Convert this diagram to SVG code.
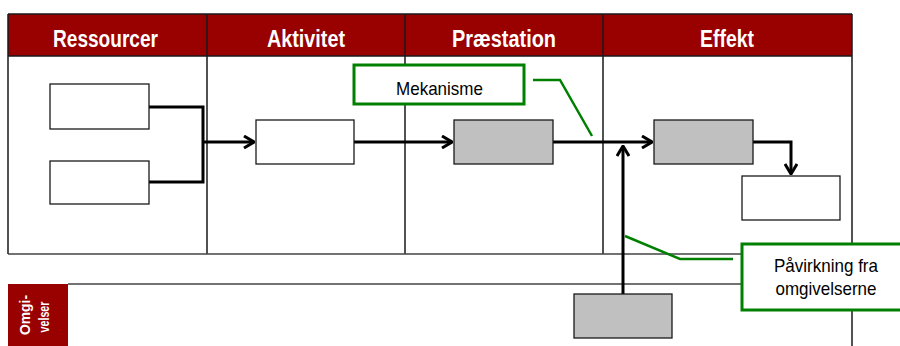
<svg xmlns="http://www.w3.org/2000/svg" width="900" height="346" viewBox="0 0 900 346">
<style>
.hdr{fill:#990000}
.ht{font-family:"Liberation Sans",Arial,sans-serif;font-weight:bold;font-size:24px;fill:#fff;text-anchor:middle}
.ot{font-family:"Liberation Sans",Arial,sans-serif;font-weight:bold;font-size:15px;fill:#fff;text-anchor:middle}
.lt{font-family:"Liberation Sans",Arial,sans-serif;font-size:19px;fill:#000;text-anchor:middle}
.grid{stroke:#1a1a1a;stroke-width:1.5;fill:none}
.wbox{fill:#fff;stroke:#1a1a1a;stroke-width:1.3}
.gbox{fill:#c0c0c0;stroke:#1a1a1a;stroke-width:1.3}
.conn{fill:none;stroke:#000;stroke-width:3}
.call{fill:#fff;stroke:#008000;stroke-width:3}
.cl{fill:none;stroke:#008000;stroke-width:2.5}
</style>
<defs>
<marker id="ah" markerUnits="userSpaceOnUse" viewBox="0 0 12 14" refX="11" refY="7" markerWidth="12" markerHeight="14" orient="auto">
<path d="M1,1 L11,7 L1,13" fill="none" stroke="#000" stroke-width="3"/>
</marker>
</defs>
<rect width="900" height="346" fill="#fff"/>
<g id="frame">
<rect class="hdr" x="8" y="14" width="844" height="42"/>
<rect class="hdr" x="8" y="284" width="60" height="62"/>
<path class="grid" d="M8,14 H852 M8,56 H852 M8,14 V254 M207,14 V254 M405,14 V254 M603,14 V254 M852,14 V346"/>
<path d="M8,254 H852 M68,284 H852" stroke="#444" stroke-width="1.5" fill="none"/>
<text class="ht" x="105.5" y="47" textLength="105" lengthAdjust="spacingAndGlyphs">Ressourcer</text>
<text class="ht" x="306" y="47" textLength="78" lengthAdjust="spacingAndGlyphs">Aktivitet</text>
<text class="ht" x="504" y="47" textLength="104" lengthAdjust="spacingAndGlyphs">Præstation</text>
<text class="ht" x="727" y="47" textLength="54" lengthAdjust="spacingAndGlyphs">Effekt</text>
<text class="ot" transform="translate(30,315) rotate(-90)" textLength="40" lengthAdjust="spacingAndGlyphs">Omgi-</text>
<text class="ot" transform="translate(49,317) rotate(-90)" textLength="31" lengthAdjust="spacingAndGlyphs">velser</text>
</g>
<g id="connectors">
<path class="conn" d="M149,107 H203 V182 H149"/>
<path class="conn" d="M203,142 H254" marker-end="url(#ah)"/>
<path class="conn" d="M354,142 H452" marker-end="url(#ah)"/>
<path class="conn" d="M553,142 H652" marker-end="url(#ah)"/>
<path class="conn" d="M753,142 H791 V174" marker-end="url(#ah)"/>
<path class="conn" d="M623,294 V146" marker-end="url(#ah)"/>
<path class="cl" d="M533,80 H560 L592,136"/>
<path class="cl" d="M625,236 L680,259 H733"/>
</g>
<g id="res1"><rect class="wbox" x="50" y="84" width="99" height="45"/></g>
<g id="res2"><rect class="wbox" x="50" y="161" width="99" height="43"/></g>
<g id="akt"><rect class="wbox" x="256" y="120" width="98" height="44"/></g>
<g id="praest"><rect class="gbox" x="454" y="120" width="99" height="44"/></g>
<g id="eff1"><rect class="gbox" x="654" y="120" width="99" height="44"/></g>
<g id="eff2"><rect class="wbox" x="742" y="176" width="98" height="44"/></g>
<g id="omg"><rect class="gbox" x="574" y="294" width="98" height="44"/></g>
<g id="mekanisme">
<rect class="call" x="354" y="65" width="170" height="39"/>
<text class="lt" x="439.5" y="95" textLength="87" lengthAdjust="spacingAndGlyphs">Mekanisme</text>
</g>
<g id="paavirkning">
<rect class="call" x="742" y="244" width="170" height="66"/>
<text class="lt" x="826" y="272" textLength="104" lengthAdjust="spacingAndGlyphs">Påvirkning fra</text>
<text class="lt" x="826" y="295" textLength="101" lengthAdjust="spacingAndGlyphs">omgivelserne</text>
</g>
</svg>
